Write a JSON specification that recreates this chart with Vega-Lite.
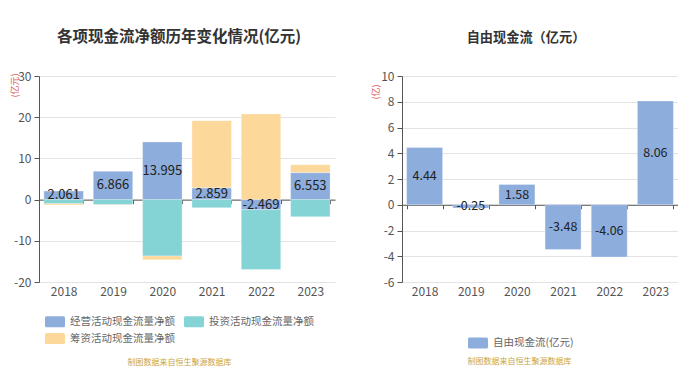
{
  "$schema": "https://vega.github.io/schema/vega-lite/v6.json",
  "background": "white",
  "padding": {"left": 9, "top": 29, "right": 0, "bottom": 0},
  "bounds": "flush",
  "spacing": 67,
  "config": {
    "font": "Noto Sans CJK SC",
    "view": {"stroke": null},
    "locale": {
      "number": {"decimal": ".", "thousands": ",", "grouping": [3], "currency": ["$", ""], "minus": "-"}
    },
    "axis": {
      "labelFont": "Noto Sans CJK SC",
      "labelColor": "#555555",
      "labelFontSize": 12,
      "labelOverlap": false,
      "tickCount": 20,
      "domainColor": "#555555",
      "tickColor": "#555555",
      "gridColor": "#e3e3e3"
    },
    "legend": {
      "labelFont": "Noto Sans CJK SC",
      "labelColor": "#666666",
      "labelFontSize": 10.5,
      "labelOffset": 5
    }
  },
  "resolve": {"scale": {"color": "independent", "y": "independent", "x": "independent"}, "legend": {"color": "independent"}},
  "hconcat": [
    {
      "width": 296,
      "height": 206,
      "title": {"text": "各项现金流净额历年变化情况(亿元)", "fontSize": 15.5, "fontWeight": "bold", "color": "#333333", "dx": -8, "offset": 25, "anchor": "middle"},
      "data": {"values": [
        {"year": "2018", "type": "经营活动现金流量净额", "value": 2.061, "ord": 1},
        {"year": "2018", "type": "投资活动现金流量净额", "value": -1.0, "ord": 2},
        {"year": "2018", "type": "筹资活动现金流量净额", "value": -0.3, "ord": 3},
        {"year": "2019", "type": "经营活动现金流量净额", "value": 6.866, "ord": 1},
        {"year": "2019", "type": "投资活动现金流量净额", "value": -1.25, "ord": 2},
        {"year": "2019", "type": "筹资活动现金流量净额", "value": -0.05, "ord": 3},
        {"year": "2020", "type": "经营活动现金流量净额", "value": 13.995, "ord": 1},
        {"year": "2020", "type": "投资活动现金流量净额", "value": -13.7, "ord": 2},
        {"year": "2020", "type": "筹资活动现金流量净额", "value": -0.9, "ord": 3},
        {"year": "2021", "type": "经营活动现金流量净额", "value": 2.859, "ord": 1},
        {"year": "2021", "type": "投资活动现金流量净额", "value": -1.95, "ord": 2},
        {"year": "2021", "type": "筹资活动现金流量净额", "value": 16.3, "ord": 3},
        {"year": "2022", "type": "经营活动现金流量净额", "value": -2.469, "ord": 1},
        {"year": "2022", "type": "投资活动现金流量净额", "value": -14.5, "ord": 2},
        {"year": "2022", "type": "筹资活动现金流量净额", "value": 20.8, "ord": 3},
        {"year": "2023", "type": "经营活动现金流量净额", "value": 6.553, "ord": 1},
        {"year": "2023", "type": "投资活动现金流量净额", "value": -4.15, "ord": 2},
        {"year": "2023", "type": "筹资活动现金流量净额", "value": 1.9, "ord": 3}
      ]},
      "layer": [
        {
          "mark": {"type": "bar", "stroke": "#ffffff", "strokeOpacity": 0.6, "strokeWidth": 0.5},
          "encoding": {
            "x": {"field": "year", "type": "ordinal", "title": "制图数据来自恒生聚源数据库",
              "scale": {"paddingInner": 0.2, "paddingOuter": 0.1},
              "axis": {"orient": "bottom", "offset": -82.4, "labelPadding": 82.4, "labelAngle": 0, "tickBand": "extent", "tickSize": 4, "domainColor": "#555555",
                "titleColor": "#C9A545", "titleFontSize": 8, "titleFontWeight": "normal", "titleX": 140, "titleY": 159, "titleAnchor": "middle", "titleAlign": "center"}},
            "y": {"field": "value", "type": "quantitative", "stack": "zero", "title": "(亿元)",
              "scale": {"domain": [-20, 30], "nice": false},
              "axis": {"values": [-20, -10, 0, 10, 20, 30], "tickSize": 5, "labelPadding": 3, "titleColor": "#E06060", "titleFontSize": 9, "titleFontWeight": "normal", "titleAngle": -90, "titleX": -25, "titleY": -3, "titleAlign": "right", "titleBaseline": "middle"}},
            "color": {"field": "type", "type": "nominal",
              "scale": {"domain": ["经营活动现金流量净额", "投资活动现金流量净额", "筹资活动现金流量净额"], "range": ["#8DADDC", "#84D3D5", "#FDD89B"]},
              "legend": {"title": null, "orient": "none", "legendX": 6, "legendY": 235.5, "columns": 2, "direction": "horizontal", "symbolType": "M-1,-0.4Q-1,-0.55 -0.85,-0.55H0.85Q1,-0.55 1,-0.4V0.4Q1,0.55 0.85,0.55H-0.85Q-1,0.55 -1,0.4Z", "symbolSize": 400, "symbolStrokeWidth": 0, "columnPadding": 9, "rowPadding": 1}},
            "order": {"field": "ord"}
          }
        },
        {
          "transform": [{"filter": "datum.ord === 1"}, {"calculate": "datum.value / 2", "as": "mid"}],
          "mark": {"type": "text", "fontSize": 13, "color": "#222222"},
          "encoding": {
            "x": {"field": "year", "type": "ordinal"},
            "y": {"field": "mid", "type": "quantitative"},
            "text": {"field": "value", "type": "quantitative", "format": ".3f"}
          }
        }
      ]
    },
    {
      "width": 276,
      "height": 206,
      "title": {"text": "自由现金流（亿元）", "fontSize": 13.2, "fontWeight": "bold", "color": "#333333", "dx": -14, "offset": 25, "anchor": "middle"},
      "data": {"values": [
        {"year": "2018", "series": "自由现金流(亿元)", "value": 4.44},
        {"year": "2019", "series": "自由现金流(亿元)", "value": -0.25},
        {"year": "2020", "series": "自由现金流(亿元)", "value": 1.58},
        {"year": "2021", "series": "自由现金流(亿元)", "value": -3.48},
        {"year": "2022", "series": "自由现金流(亿元)", "value": -4.06},
        {"year": "2023", "series": "自由现金流(亿元)", "value": 8.06}
      ]},
      "layer": [
        {
          "mark": {"type": "bar", "stroke": "#ffffff", "strokeOpacity": 0.6, "strokeWidth": 0.5},
          "encoding": {
            "x": {"field": "year", "type": "ordinal", "title": "制图数据来自恒生聚源数据库",
              "scale": {"paddingInner": 0.22, "paddingOuter": 0.1},
              "axis": {"orient": "bottom", "offset": -77.25, "labelPadding": 77.25, "labelAngle": 0, "tickBand": "extent", "tickSize": 4,
                "titleColor": "#C9A545", "titleFontSize": 8, "titleFontWeight": "normal", "titleX": 117, "titleY": 153, "titleAnchor": "middle", "titleAlign": "center"}},
            "y": {"field": "value", "type": "quantitative", "title": "(亿)",
              "scale": {"domain": [-6, 10], "nice": false},
              "axis": {"values": [-6, -4, -2, 0, 2, 4, 6, 8, 10], "tickSize": 5, "labelPadding": 3, "titleColor": "#E06060", "titleFontSize": 9, "titleFontWeight": "normal", "titleAngle": -90, "titleX": -27, "titleY": 8, "titleAlign": "right", "titleBaseline": "middle"}},
            "color": {"field": "series", "type": "nominal",
              "scale": {"range": ["#8DADDC"]},
              "legend": {"title": null, "orient": "none", "legendX": 66, "legendY": 257, "symbolType": "M-1,-0.4Q-1,-0.55 -0.85,-0.55H0.85Q1,-0.55 1,-0.4V0.4Q1,0.55 0.85,0.55H-0.85Q-1,0.55 -1,0.4Z", "symbolSize": 400, "symbolStrokeWidth": 0}}
          }
        },
        {
          "transform": [{"calculate": "datum.value / 2", "as": "mid"}],
          "mark": {"type": "text", "fontSize": 12.5, "color": "#222222"},
          "encoding": {
            "x": {"field": "year", "type": "ordinal"},
            "y": {"field": "mid", "type": "quantitative"},
            "text": {"field": "value", "type": "quantitative", "format": ".2f"}
          }
        }
      ]
    }
  ]
}
